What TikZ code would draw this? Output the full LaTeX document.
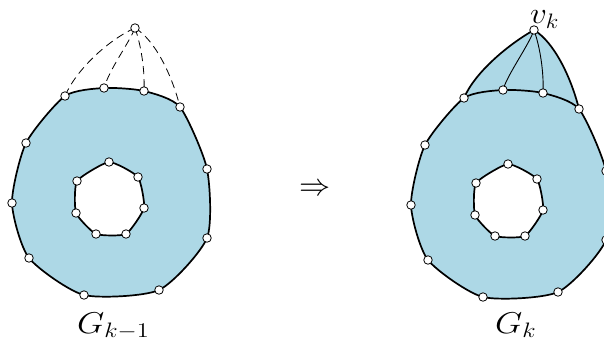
\documentclass[tikz,border=0pt]{standalone}
\usepackage{graphicx}
\definecolor{lblue}{RGB}{173,216,230}
\newcommand\mkcoords[1]{%
  \coordinate (#1P) at (135,28);
  \coordinate (#1A) at (65,96);
  \coordinate (#1B) at (104,88);
  \coordinate (#1C) at (144,91);
  \coordinate (#1D) at (180,107);
  \coordinate (#1F) at (207,169);
  \coordinate (#1G) at (207,238);
  \coordinate (#1H) at (159,290);
  \coordinate (#1I) at (84,295);
  \coordinate (#1J) at (29,258);
  \coordinate (#1K) at (12,203);
  \coordinate (#1E) at (26,143);
  \coordinate (#1a) at (109,162);
  \coordinate (#1b) at (138,177);
  \coordinate (#1c) at (144,208);
  \coordinate (#1d) at (126,234);
  \coordinate (#1e) at (96,234);
  \coordinate (#1f) at (76,213);
  \coordinate (#1g) at (77,181);
}
\newcommand\outerpath[1]{plot[smooth cycle,tension=0.4] coordinates {(#1A)(#1B)(#1C)(#1D)(#1F)(#1G)(#1H)(#1I)(#1J)(#1K)(#1E)}}
\newcommand\innerpath[1]{plot[smooth cycle,tension=0.3] coordinates {(#1a)(#1b)(#1c)(#1d)(#1e)(#1f)(#1g)}}
\newcommand\vertices[1]{%
  \foreach \v in {A,B,C,D,F,G,H,I,J,K,E,a,b,c,d,e,f,g}
    \node[vtx] (#1v\v) at (#1\v) {};
}
\newcommand\biglab[1]{\scalebox{1.7}[1.45]{#1}}
\begin{document}
\begin{tikzpicture}[x=1pt,y=-1pt,
  vtx/.style={circle,draw=black,fill=white,line width=0.8pt,inner sep=0pt,minimum size=8.5pt},
  bound/.style={line width=1.7pt,line join=round},
  thinedge/.style={line width=0.9pt},
  dashedge/.style={line width=0.8pt,dash pattern=on 8pt off 5pt},
  lab/.style={inner sep=0pt,font=\huge}]
\useasboundingbox (0,0) rectangle (604,346);

% ---------- left graph G_{k-1}
\begin{scope}
  \mkcoords{l}
  \fill[lblue,even odd rule] \outerpath{l} \innerpath{l};
  \draw[bound] \outerpath{l};
  \draw[bound] \innerpath{l};
  \draw[dashedge] (lP) .. controls +(-27,12) and +(11,-26) .. (lA);
  \draw[dashedge] (lP) .. controls +(-7,17) and +(6,-20) .. (lB);
  \draw[dashedge] (lP) .. controls +(6,17) and +(1,-21) .. (lC);
  \draw[dashedge] (lP) .. controls +(20,12) and +(-8,-32) .. (lD);
  \vertices{l}
  \node[vtx] (lvP) at (lP) {};
\end{scope}

% ---------- right graph G_k
\begin{scope}[shift={(399,2)}]
  \mkcoords{r}
  \fill[lblue] (rA) .. controls +(11,-26) and +(-25,14) .. (rP)
               .. controls +(20,12) and +(-8,-32) .. (rD) -- cycle;
  \fill[lblue,even odd rule] \outerpath{r} \innerpath{r};
  \draw[bound] \outerpath{r};
  \draw[bound] \innerpath{r};
  \draw[bound] (rA) .. controls +(11,-26) and +(-25,14) .. (rP)
               .. controls +(20,12) and +(-8,-32) .. (rD);
  \draw[thinedge] (rP) .. controls +(-5,15) and +(4,-15) .. (rB);
  \draw[thinedge] (rP) .. controls +(6,17) and +(1,-21) .. (rC);
  \vertices{r}
  \node[vtx] (rvP) at (rP) {};
\end{scope}

\node[lab] (arrow) at (315,190) {\scalebox{1.5}{$\Rightarrow$}};
\node[lab,anchor=base west] (labL) at (77,333) {\biglab{$G_{k-1}$}};
\node[lab,anchor=base west] (labR) at (495,333) {\biglab{$G_k$}};
\node[lab,anchor=base west] (labV) at (530,23.5) {\scalebox{1.6}[1.45]{$v_k$}};
\end{tikzpicture}
\end{document}
